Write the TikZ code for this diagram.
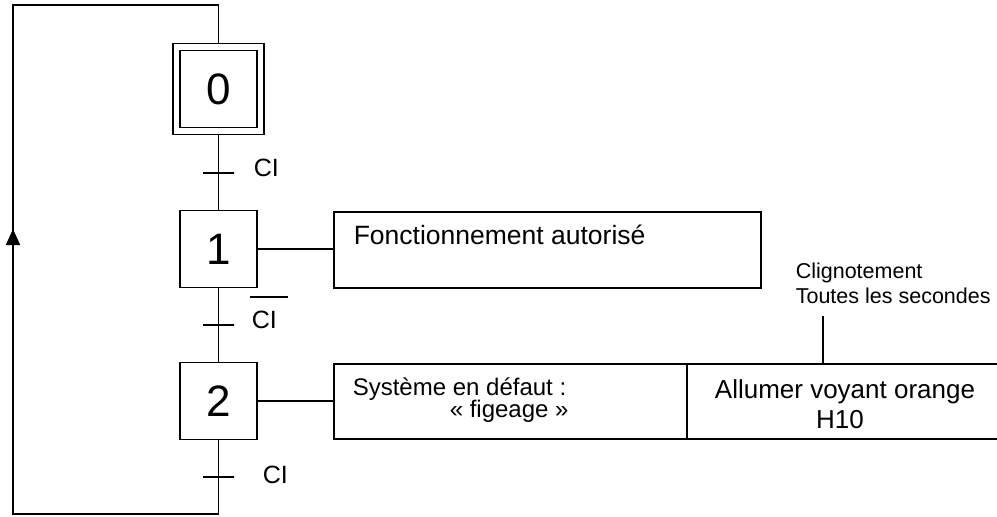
\documentclass[tikz,border=0pt]{standalone}
\usepackage{fontspec}
\setmainfont{Liberation Sans}
\usetikzlibrary{arrows.meta}
\begin{document}
\begin{tikzpicture}[x=1pt,y=-1pt,line width=1.6pt,
  stepbox/.style={draw,minimum width=77pt,minimum height=77pt,inner sep=0pt,font=\fontsize{44}{50}\selectfont},
  initstep/.style={stepbox,minimum width=84pt,minimum height=84pt,double,double distance=5.4pt},
  trans/.style={draw,minimum width=31pt,minimum height=0pt,inner sep=0pt,outer sep=0pt},
  actbox/.style={draw,inner sep=0pt,anchor=north west},
  txt/.style={inner sep=0pt,anchor=base west},
  ctxt/.style={inner sep=0pt,anchor=base},
  cond/.style={txt,font=\fontsize{25}{29}\selectfont},
  big/.style={font=\fontsize{26.5}{31}\selectfont},
  mid/.style={font=\fontsize{24}{28}\selectfont},
  small/.style={font=\fontsize{21.5}{25}\selectfont}]
\useasboundingbox (0,0) rectangle (997,517);
\clip (0,0) rectangle (997,517);

% steps
\node[initstep] (s0) at (218.5,89) {0};
\node[stepbox] (s1) at (218.5,249) {1};
\node[stepbox] (s2) at (218.5,401) {2};

% transitions
\node[trans] (t1) at (218.5,173) {};
\node[trans] (t2) at (218.5,325) {};
\node[trans] (t3) at (218.5,477) {};

% conditions
\node[cond] (c1) at (253,176) {CI};
\node[cond] (c2) at (251,328) {CI};
\draw (250,297) -- (288,297);
\node[cond] (c3) at (262,483) {CI};

% vertical links
\draw ([yshift=-3.5pt]s0.south) -- (t1.center) -- (s1.north);
\draw (s1.south) -- (t2.center) -- (s2.north);
\draw (s2.south) -- (t3.center);

% return loop
\coordinate (bl) at (13,514);
\coordinate (tl) at (13,5);
\coordinate (arr) at (13,229);
\draw (t3.center) -- (t3.center |- bl) -- (bl) -- (arr);
\draw[-{Triangle[length=16pt,width=14pt]}] (bl) -- (arr);
\draw (arr) -- (tl) -| ([yshift=3.5pt]s0.north);

% actions
\node[actbox,minimum width=427pt,minimum height=76pt] (a1) at (333,211) {};
\node[txt,big] (a1t) at (353,244) {Fonctionnement autorisé};
\draw (s1.east) -- (s1.east -| a1.west);

\node[actbox,minimum width=353pt,minimum height=75pt] (a2) at (333,363) {};
\node[txt,mid] (a2t1) at (352,395) {Système en défaut :};
\node[txt,mid] (a2t2) at (449,417) {« figeage »};
\draw (s2.east) -- (s2.east -| a2.west);

\node[actbox,minimum width=316pt,minimum height=75pt] (a3) at (686,363) {};
\node[ctxt,font=\fontsize{26}{30}\selectfont] (a3t1) at (845,398) {Allumer voyant orange};
\node[ctxt,font=\fontsize{26}{30}\selectfont] (a3t2) at (840,428) {H10};

% blinking note
\node[txt,small] (n1) at (795,278) {Clignotement};
\node[txt,small] (n2) at (795,303) {Toutes les secondes};
\coordinate (lt) at (823,316);
\draw (lt) -- (lt |- a3.north);
\end{tikzpicture}
\end{document}
